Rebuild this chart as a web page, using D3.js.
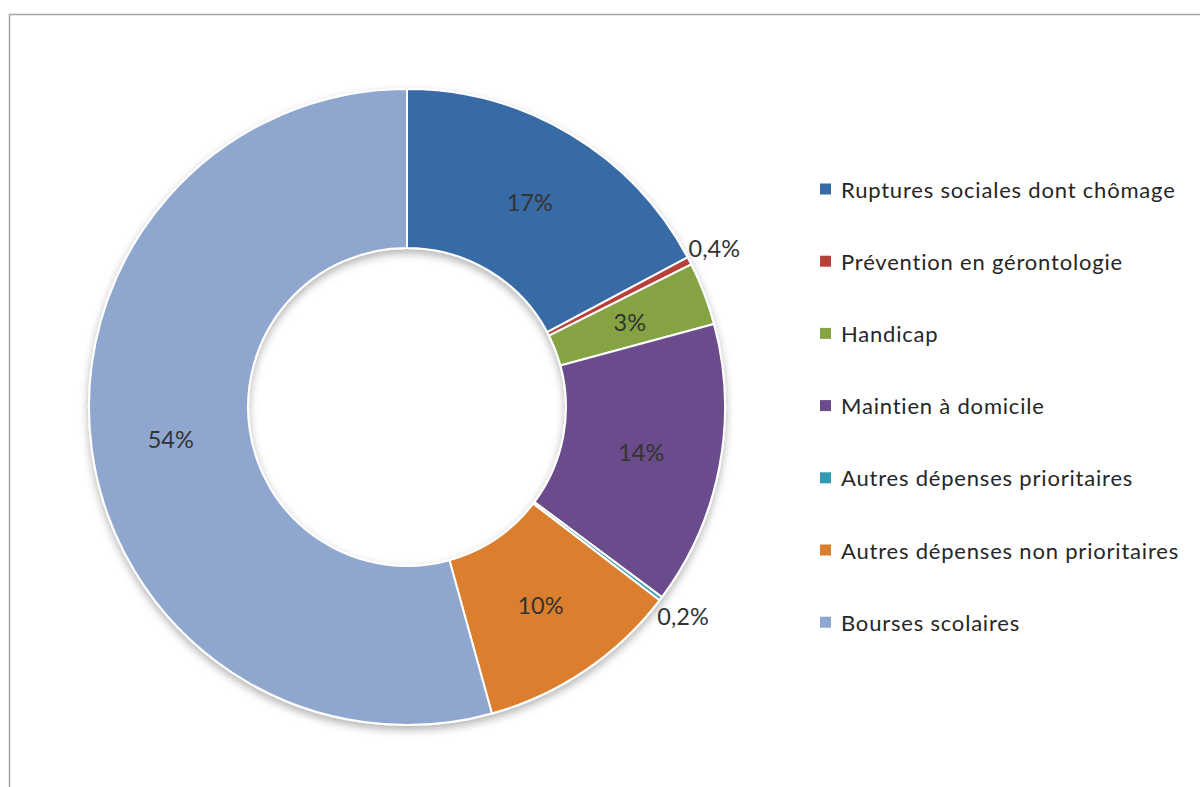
<!DOCTYPE html>
<html><head><meta charset="utf-8">
<script src="https://cdn.jsdelivr.net/npm/d3@7"></script>
<style>
html,body{margin:0;padding:0;background:#fff;}
svg{display:block;}
text{font-family:Lato,"Open Sans",sans-serif;}
</style></head>
<body>
<svg id="chart" width="1200" height="787"></svg>
<script>
const categories = ["Ruptures sociales dont chômage","Prévention en gérontologie","Handicap","Maintien à domicile","Autres dépenses prioritaires","Autres dépenses non prioritaires","Bourses scolaires"];
const values = [17.2, 0.4, 3.2, 14.4, 0.2, 10.3, 54.3];
const labels = ["17%","0,4%","3%","14%","0,2%","10%","54%"];
const colors = ["#376ba6","#b8403a","#85a343","#6b4c8b","#2f9ab2","#db7f2e","#8fa7ce"];

const svg = d3.select("#chart");
// frame
svg.append("rect").attr("x",9.5).attr("y",14.5).attr("width",1300).attr("height",900)
  .attr("fill","none").attr("stroke","#a6a6a6").attr("stroke-width",1.5);

const defs = svg.append("defs");
const f = defs.append("filter").attr("id","shadow").attr("x","-20%").attr("y","-20%").attr("width","140%").attr("height","140%");
f.append("feDropShadow").attr("dx",0).attr("dy",4).attr("stdDeviation",4).attr("flood-color","#000").attr("flood-opacity",0.3);

const cx = 407, cy = 407, R = 318, r0 = 159;
const pie = d3.pie().sort(null).value(d=>d)(values);
const arc = d3.arc().innerRadius(r0).outerRadius(R);
const g = svg.append("g").attr("transform",`translate(${cx},${cy})`);
const gs = g.append("g").attr("filter","url(#shadow)");
gs.selectAll("path").data(pie).join("path")
  .attr("d",arc).attr("fill",(d,i)=>colors[i])
  .attr("stroke","#fff").attr("stroke-width",2).attr("stroke-linejoin","round");

const outerArc = d3.arc().innerRadius(346).outerRadius(346);
g.selectAll("text.lbl").data(pie).join("text").attr("class","lbl")
  .attr("transform",(d,i)=>{
    const c = (values[i] < 1 ? outerArc : arc).centroid(d);
    return `translate(${c[0]},${c[1]})`;
  })
  .attr("text-anchor","middle").attr("dominant-baseline","central")
  .attr("font-size",23.5).attr("fill","#333")
  .text((d,i)=>labels[i]);

// legend
const leg = svg.append("g");
const y0 = 189, dy = 72.2;
categories.forEach((c,i)=>{
  const y = y0 + i*dy;
  leg.append("rect").attr("x",820).attr("y",y-5.5).attr("width",11).attr("height",11).attr("fill",colors[i]);
  leg.append("text").attr("x",841).attr("y",y).attr("dominant-baseline","central")
    .attr("font-size",22).attr("letter-spacing",0.8).attr("fill","#262626").text(c);
});
</script>
</body></html>
